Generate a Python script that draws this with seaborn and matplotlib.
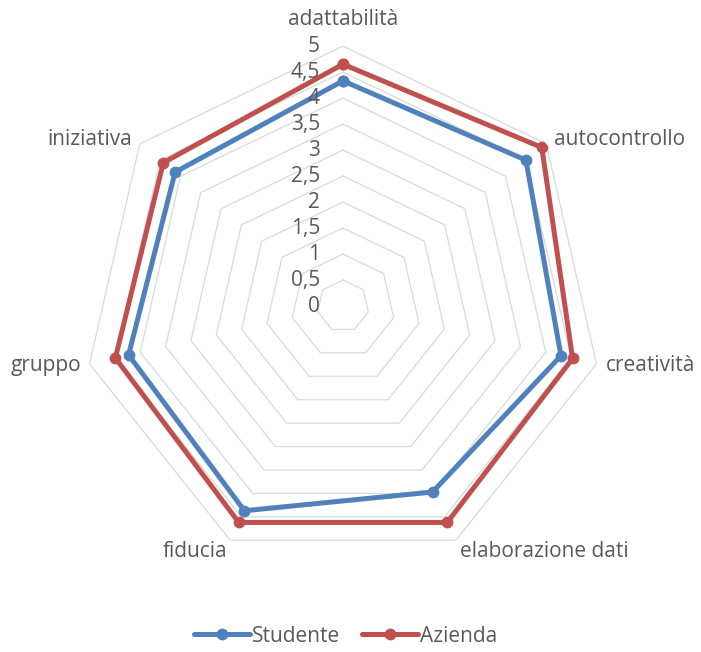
import numpy as np
import pandas as pd
import matplotlib
matplotlib.use("Agg")
import matplotlib.pyplot as plt
from matplotlib.lines import Line2D
import seaborn as sns

# Data
categorie = ["adattabilità", "autocontrollo", "creatività", "elaborazione dati",
             "fiducia", "gruppo", "iniziativa"]
studente = [4.33, 4.5, 4.3, 3.97, 4.37, 4.23, 4.13]
azienda = [4.65, 4.89, 4.53, 4.62, 4.62, 4.49, 4.42]
serie = ["Studente", "Azienda"]
colori = {"Studente": "#4f81bd", "Azienda": "#c0504d"}
livelli = [0, 0.5, 1, 1.5, 2, 2.5, 3, 3.5, 4, 4.5, 5]
etichette_livelli = ["0", "0,5", "1", "1,5", "2", "2,5", "3", "3,5", "4", "4,5", "5"]

sns.set_theme(style="white")
plt.rcParams["font.family"] = ["Open Sans", "DejaVu Sans"]
TEXT = "#595959"
GRID = "#d9d9d9"
FS = 15

n = len(categorie)
theta = np.linspace(0, 2 * np.pi, n, endpoint=False)
theta_closed = np.append(theta, 2 * np.pi)

rows = []
for nome, valori in zip(serie, [studente, azienda]):
    for t, v in zip(theta_closed, valori + valori[:1]):
        rows.append({"theta": t, "valore": v, "serie": nome})
df = pd.DataFrame(rows)

fig = plt.figure(figsize=(7.01, 6.52), dpi=100)
ax = fig.add_axes([0.1184, 0.1319, 0.7418, 0.7975], projection="polar")
ax.set_theta_offset(np.pi / 2)
ax.set_theta_direction(-1)

# polygon grid rings
for lv in livelli[1:]:
    ax.plot(theta_closed, [lv] * len(theta_closed), color=GRID, lw=0.9, zorder=0)

sns.lineplot(data=df, x="theta", y="valore", hue="serie", palette=colori,
             sort=False, estimator=None, marker="o", markersize=8.5,
             markeredgewidth=0, linewidth=3.6, ax=ax, legend=False)

ax.set_ylim(0, 5)
ax.grid(False)
ax.spines["polar"].set_visible(False)
ax.set_xticks([])
ax.set_yticks([])
ax.set_xlabel("")
ax.set_ylabel("")

# radial value labels
for lv, lab in zip(livelli, etichette_livelli):
    ax.annotate(lab, xy=(0, lv), xytext=(-23, 0), textcoords="offset pixels",
                ha="right", va="center", fontsize=FS, color=TEXT)

# category labels
allineamenti = [
    ((0, 16), "center", "bottom"),
    ((8, 4), "left", "center"),
    ((9, -2), "left", "center"),
    ((4, -1), "left", "top"),
    ((-3, -1), "right", "top"),
    ((-8, -2), "right", "center"),
    ((-8, 4), "right", "center"),
]
for t, nome, (off, ha, va) in zip(theta, categorie, allineamenti):
    ax.annotate(nome, xy=(t, 5), xytext=off, textcoords="offset pixels",
                ha=ha, va=va, fontsize=FS, color=TEXT)

handles = [Line2D([0], [0], color=colori[s], lw=3.6, marker="o", markersize=8.5,
                  markeredgewidth=0) for s in serie]
leg = fig.legend(handles, serie, loc="center", bbox_to_anchor=(0.493, 1 - 636 / 652),
                 ncol=2, frameon=False, fontsize=FS, handlelength=2.7,
                 handletextpad=0.1, columnspacing=1.0)
for txt in leg.get_texts():
    txt.set_color(TEXT)

fig.savefig("out.png", dpi=100)
